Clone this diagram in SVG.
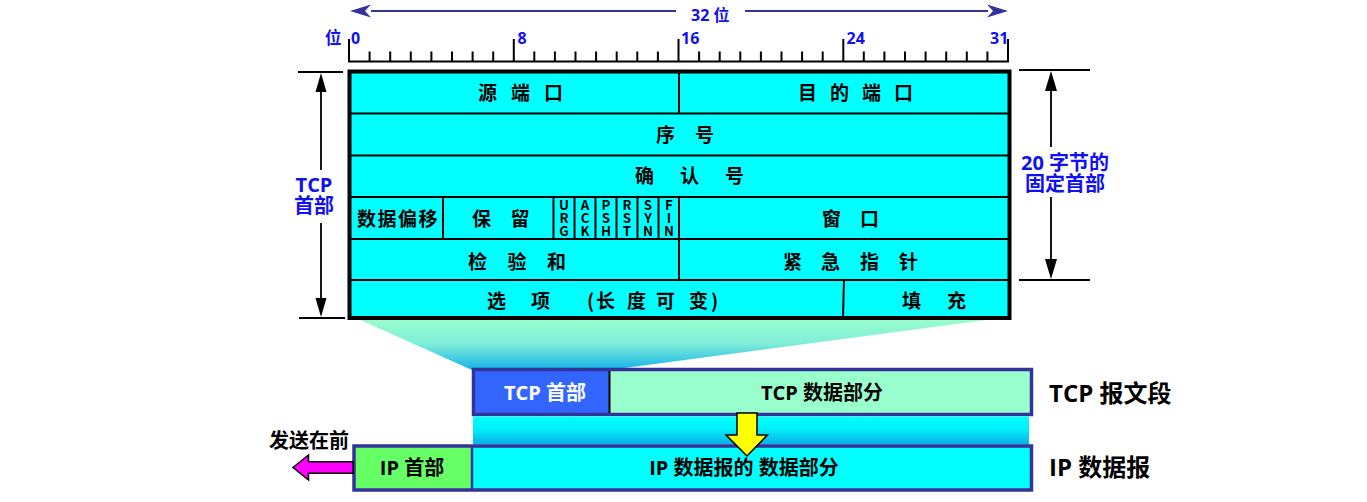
<svg xmlns="http://www.w3.org/2000/svg" width="1367" height="502" viewBox="0 0 1367 502">
<defs>
<linearGradient id="gTrap" x1="0" y1="0" x2="0" y2="1">
<stop offset="0" stop-color="#99ffcc"/><stop offset="0.5" stop-color="#7fecd8"/><stop offset="1" stop-color="#12b2ea"/>
</linearGradient>
<linearGradient id="gBand" x1="0" y1="0" x2="0" y2="1">
<stop offset="0" stop-color="#00ffff"/><stop offset="0.45" stop-color="#00f0fa"/><stop offset="1" stop-color="#0aaee6"/>
</linearGradient>
<style>
.ln{stroke:#000;stroke-width:2;fill:none}
.t{font-family:"Noto Sans CJK SC",sans-serif;font-weight:bold;font-size:19px;fill:#000;dominant-baseline:central}
.flag{font-family:"Noto Sans CJK SC",sans-serif;font-weight:bold;font-size:13.3px;fill:#000;writing-mode:vertical-rl;text-orientation:upright}
.blue{fill:#1010f0;font-family:"Open Sans","Noto Sans CJK SC",sans-serif;font-weight:bold}
.lab{font-family:"Open Sans","Noto Sans CJK SC",sans-serif;font-weight:bold;font-size:20px;fill:#000;dominant-baseline:central}
.big{font-family:"Open Sans","Noto Sans CJK SC",sans-serif;font-weight:bold;font-size:24px;fill:#000;dominant-baseline:central}
.dim{stroke:#000;stroke-width:1.8;fill:none}
</style>
</defs>
<rect width="1367" height="502" fill="#fff"/>

<g id="ruler">
<path class="ln" d="M348 61.5H1009"/>
<path class="ln" d="M349 39V62M513.8 39V62M678.5 39V62M843.3 39V62M1008 39V62"/>
<path class="ln" d="M369.6 51.5V62M390.2 51.5V62M410.8 51.5V62M431.4 51.5V62M452 51.5V62M472.6 51.5V62M493.2 51.5V62M534.3 51.5V62M554.9 51.5V62M575.5 51.5V62M596.1 51.5V62M616.7 51.5V62M637.3 51.5V62M657.9 51.5V62M699.1 51.5V62M719.7 51.5V62M740.3 51.5V62M760.9 51.5V62M781.5 51.5V62M802.1 51.5V62M822.7 51.5V62M863.8 51.5V62M884.4 51.5V62M905 51.5V62M925.6 51.5V62M946.2 51.5V62M966.8 51.5V62M987.4 51.5V62"/>
<g class="blue" font-size="16">
<text x="325" y="44" font-size="16.5">位</text>
<text x="351" y="43.5">0</text>
<text x="517.5" y="43.5">8</text>
<text x="681" y="43.5">16</text>
<text x="846.5" y="43.5">24</text>
<text x="990" y="43.5">31</text>
<text x="691" y="20.5">32 位</text>
</g>
</g>

<g id="zoom-fan">
<polygon points="356,318 1001,318 609,370 472,370" fill="url(#gTrap)"/>
</g>

<g id="tcp-header">
<rect x="349.5" y="71.5" width="660" height="246.5" fill="#00ffff" stroke="#000" stroke-width="4"/>
<path class="ln" d="M351 113.5H1008M351 155.5H1008M351 197H1008M351 239H1008M351 280H1008"/>
<path class="ln" d="M679 71.5V113.5M443 197V239M553.5 197V239M574.5 197V239M595.5 197V239M616.5 197V239M637.5 197V239M658.5 197V239M679 197V280M844 280L843 318"/>
<g id="f-src-port"><text class="t" x="478 511 544" y="91.5">源端口</text></g>
<g id="f-dst-port"><text class="t" x="798 830 862 894" y="91.5">目的端口</text></g>
<g id="f-seq"><text class="t" x="656 695" y="133">序号</text></g>
<g id="f-ack"><text class="t" x="635 680 725" y="174.5">确认号</text></g>
<g id="f-offset"><text class="t" x="357 377.5 398 418.5" y="217.5">数据偏移</text></g>
<g id="f-reserved"><text class="t" x="472 510.5" y="217.5">保留</text></g>
<g id="f-flags">
<text class="flag" x="564" y="198">URG</text>
<text class="flag" x="585" y="198">ACK</text>
<text class="flag" x="606" y="198">PSH</text>
<text class="flag" x="627" y="198">RST</text>
<text class="flag" x="648" y="198">SYN</text>
<text class="flag" x="669" y="198">FIN</text>
</g>
<g id="f-window"><text class="t" x="822 860" y="217.5">窗口</text></g>
<g id="f-checksum"><text class="t" x="468 507.5 547" y="260">检验和</text></g>
<g id="f-urgent"><text class="t" x="783 821 860 899" y="260">紧急指针</text></g>
<g id="f-options"><text class="t" x="487 531 587 596 627 656 689 711" y="299">选项(长度可变)</text></g>
<g id="f-padding"><text class="t" x="902 947" y="299">填充</text></g>
</g>

<g id="tcp-segment">
<rect x="473.5" y="369.5" width="136" height="45" fill="#3366ff"/>
<rect x="609.5" y="369.5" width="422" height="45" fill="#99ffcc"/>
<path d="M609.5 370V414" stroke="#000" stroke-width="2"/>
<rect x="473.5" y="369.5" width="558" height="45" fill="none" stroke="#333399" stroke-width="3.5"/>
<text class="lab" x="545" y="392" text-anchor="middle" style="fill:#fff">TCP 首部</text>
<text class="lab" x="822" y="392" text-anchor="middle">TCP 数据部分</text>
</g>

<g id="band">
<rect x="473" y="416.5" width="556" height="28" fill="url(#gBand)"/>
</g>

<g id="ip-datagram">
<rect x="354" y="446" width="118" height="44" fill="#66ff66"/>
<rect x="472" y="446" width="559.5" height="44" fill="#00ffff"/>
<path d="M472 446V490" stroke="#333399" stroke-width="2.5"/>
<rect x="354" y="446" width="677.5" height="44" fill="none" stroke="#333399" stroke-width="3.5"/>
<text class="lab" x="412" y="467" text-anchor="middle">IP 首部</text>
<text class="lab" x="744" y="467" text-anchor="middle">IP 数据报的 数据部分</text>
</g>

<g id="labels">
<text class="big" x="1049" y="392">TCP 报文段</text>
<text class="big" x="1049" y="466.5">IP 数据报</text>
<text class="lab" x="309" y="440.5" text-anchor="middle">发送在前</text>
<g class="blue" font-size="20" text-anchor="middle">
<text x="314" y="191.5">TCP</text>
<text x="314" y="213">首部</text>
</g>
<g class="blue" font-size="20" text-anchor="middle">
<text x="1065" y="170">20 字节的</text>
<text x="1065" y="190.5">固定首部</text>
</g>
</g>

<g id="connectors">
<path d="M371 11H676M745 11H988" stroke="#333399" stroke-width="2.2" fill="none"/>
<polygon points="350,11 371,4.5 365,11 371,17.5" fill="#333399"/>
<polygon points="1008,11 987,4.5 993,11 987,17.5" fill="#333399"/>
<path class="ln" d="M298 72H343M299 318H345M1019 70H1090M1019 280H1090"/>
<path class="dim" d="M321 90V170M321 223V300"/>
<polygon points="321,73 315.5,92 326.5,92" fill="#000"/>
<polygon points="321,317 315.5,298 326.5,298" fill="#000"/>
<path class="dim" d="M1051 88V147M1051 197V262"/>
<polygon points="1051,71 1045,91 1057,91" fill="#000"/>
<polygon points="1051,279 1045,259 1057,259" fill="#000"/>
<polygon points="737,413 757,413 757,435 767.5,435 747,456 726,435 737,435" fill="#ffff00" stroke="#000" stroke-width="1.5"/>
<polygon points="293,467.5 308.5,455 308.5,461.7 353,461.7 353,473.3 308.5,473.3 308.5,480" fill="#ff00ff" stroke="#000" stroke-width="1.5"/>
</g>
</svg>
